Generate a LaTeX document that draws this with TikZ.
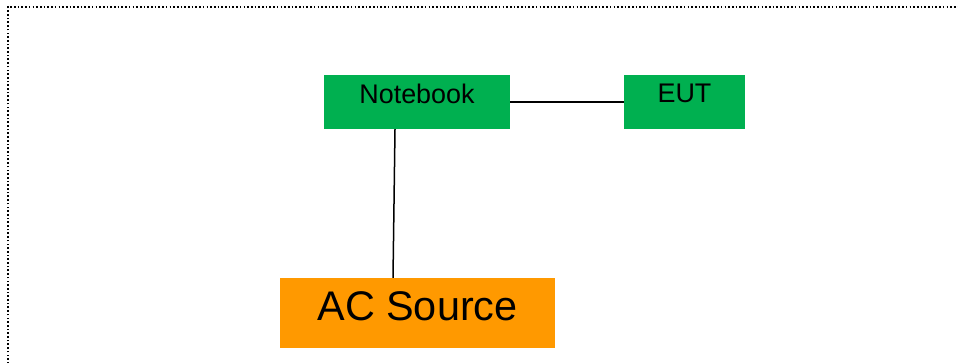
\documentclass[tikz,border=0pt]{standalone}
\usepackage{fontspec}
\setmainfont{Liberation Sans}
\definecolor{boxgreen}{HTML}{00B050}
\definecolor{boxorange}{HTML}{FF9900}
\begin{document}
\begin{tikzpicture}[x=1pt,y=1pt,
  gbox/.style={draw=none,fill=boxgreen,inner sep=0pt,minimum height=54pt},
  obox/.style={draw=none,fill=boxorange,inner sep=0pt,minimum height=70pt,minimum width=275pt},
  txt/.style={inner sep=0pt,font=\fontsize{26.9}{30}\selectfont},
  bigtxt/.style={inner sep=0pt,font=\fontsize{41.4}{46}\selectfont},
  wire/.style={draw=black,line width=1.5pt},
  frame/.style={draw=black,line width=1.7pt,dash pattern=on 1.6pt off 2.1pt}]
\useasboundingbox (0,0) rectangle (958,362);
\draw[frame] (8,-20) -- (8,355) -- (980,355);
\node[gbox,minimum width=186pt] (nb) at (417,260) {};
\node[gbox,minimum width=121pt] (eut) at (684.5,260) {};
\node[obox] (ac) at (417.5,49) {};
\node[txt] (nbt) at ([yshift=8.3pt]nb.center) {Notebook};
\node[txt] (eutt) at ([yshift=8.3pt]eut.center) {EUT};
\node[bigtxt] (act) at ([yshift=6.7pt]ac.center) {AC Source};
\draw[wire] (nb.east) -- (eut.west);
\draw[wire] ([xshift=-22pt]nb.south) -- ([xshift=-24.5pt]ac.north);
\end{tikzpicture}
\end{document}
